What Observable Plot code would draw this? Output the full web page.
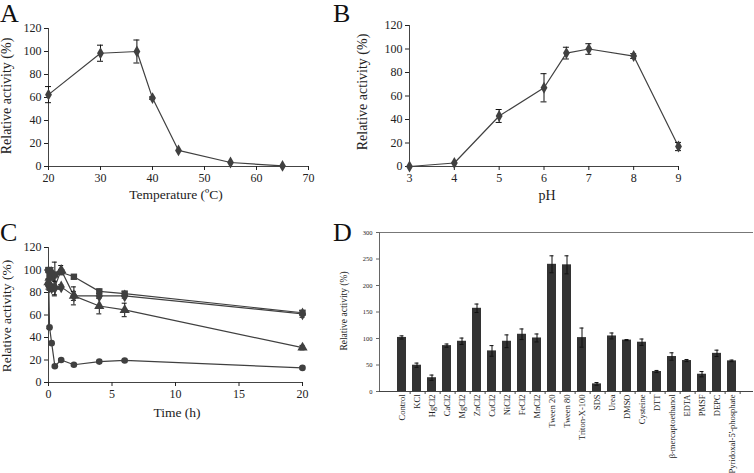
<!DOCTYPE html>
<html><head><meta charset="utf-8">
<script src="https://cdn.jsdelivr.net/npm/d3@7"></script>
<script src="https://cdn.jsdelivr.net/npm/@observablehq/plot@0.6"></script>
<style>
body{margin:0;background:#fff;}
#wrap{position:relative;width:754px;height:473px;overflow:hidden;font-family:"Liberation Serif",serif;color:#222;}
#wrap svg{position:absolute;}
</style></head>
<body><div id="wrap"></div>
<script>
// ---- Panel A: temperature
const tempX = [20, 30, 37, 40, 45, 55, 65];
const tempY = [62.5, 98.5, 100, 59.5, 14, 3.5, 0.5];
const tempErr = [7, 7, 10, 1, 0.5, 0.5, 0.5];
const tempTicks = [20, 30, 40, 50, 60, 70];
// ---- Panel B: pH
const phX = [3, 4, 5, 6, 6.5, 7, 8, 9];
const phY = [0, 3, 43, 67, 96.5, 100, 94, 17];
const phErr = [0, 0.5, 5.5, 12, 5, 4.5, 2, 3.5];
const phTicks = [3, 4, 5, 6, 7, 8, 9];
const activityTicks = [0, 20, 40, 60, 80, 100, 120];
// ---- Panel C: stability over time
const timeH = [0, 0.083, 0.25, 0.5, 1, 2, 4, 6, 20];
const stabCircle = [100, 49, 35, 14.5, 20, 15.8, 18.6, 19.6, 13];
const stabCircleErr = [1, 1, 1, 1, 1, 1, 1, 1, 1];
const stabSquare = [100, 97, 94, 96, 98, 94, 81, 79, 62];
const stabSquareErr = [2, 3, 3, 11, 2, 2, 2, 2, 2];
const stabDiamond = [86, 85, 84, 84, 85, 77, 77, 77, 61];
const stabDiamondErr = [3, 3, 3, 6, 2, 4, 2, 2, 3];
const stabTriangle = [89, 93, 98, 85, 100, 77, 68, 64.5, 31];
const stabTriangleErr = [3, 4, 4, 8, 4, 8, 7, 6, 2];
const timeTicks = [0, 5, 10, 15, 20];
// ---- Panel D: effectors
const effectors = ["Control","KCl","HgCl2","CaCl2","MgCl2","ZnCl2","CuCl2","NiCl2","FeCl2","MnCl2","Tween 20","Tween 80","Triton-X-100","SDS","Urea","DMSO","Cysteine","DTT","β-mercaptoethanol","EDTA","PMSF","DEPC","Pyridoxal-5'-phosphate"];
const effectValue = [102, 49.6, 26, 86.6, 94.8, 157, 76.6, 94.8, 108, 101, 240, 239, 101.7, 14.4, 104.8, 97, 93, 37.7, 66, 58.4, 32.6, 72, 57.8];
const effectErr = [3, 4, 5, 3, 6, 8, 10, 12, 10, 7.5, 16, 17, 18, 2.5, 5.6, 1, 6, 2, 7, 2, 5, 6, 1.5];
const dTicks = [0, 50, 100, 150, 200, 250, 300];

const wrap = document.getElementById("wrap");
const ink = "#404040";
const fmt = d => String(d);
const baseStyle = {fontFamily: "'Liberation Serif', serif", fontSize: "12px", color: "#222", background: "transparent", overflow: "visible"};

function put(svg, left, top) { svg.style.left = left + "px"; svg.style.top = top + "px"; wrap.appendChild(svg); }
function label(text, cx, cy, size, rot) {
  const d = document.createElement("div");
  d.textContent = text;
  d.style.cssText = `position:absolute;left:${cx}px;top:${cy}px;font-size:${size}px;white-space:nowrap;line-height:1;color:#222;transform:translate(-50%,-50%)${rot ? " rotate(-90deg)" : ""};`;
  wrap.appendChild(d);
}
function letter(text, left, baseline) {
  const d = document.createElement("div");
  d.textContent = text;
  d.style.cssText = `position:absolute;left:${left}px;top:${baseline - 23.2}px;font-size:26px;line-height:1.107;color:#111;`;
  wrap.appendChild(d);
}
function errMarks(data, cap) {
  const e = data.filter(d => d.e > 0.6);
  return [
    Plot.ruleX(e, {x: "x", y1: d => d.y - d.e, y2: d => d.y + d.e, stroke: "#111", strokeWidth: 1}),
    Plot.ruleY(e, {x1: "x", x2: "x", y: d => d.y + d.e, insetLeft: -cap, insetRight: -cap, stroke: "#111"}),
    Plot.ruleY(e, {x1: "x", x2: "x", y: d => d.y - d.e, insetLeft: -cap, insetRight: -cap, stroke: "#111"})
  ];
}

// Panel A
const dataA = tempX.map((x, i) => ({x, y: tempY[i], e: tempErr[i]}));
put(Plot.plot({
  width: 330, height: 210, marginLeft: 48, marginRight: 22, marginTop: 28, marginBottom: 44,
  style: baseStyle,
  x: {domain: [20, 70]}, y: {domain: [0, 120]},
  marks: [
    Plot.ruleX([20], {stroke: "#444"}),
    Plot.ruleY([0], {stroke: "#444"}),
    Plot.axisX({ticks: tempTicks, tickFormat: fmt, tickSize: 4, tickPadding: 3, label: null}),
    Plot.axisY({ticks: activityTicks, tickFormat: fmt, tickSize: 4, tickPadding: 3, label: null}),
    Plot.line(dataA, {x: "x", y: "y", stroke: ink, strokeWidth: 1.2}),
    ...errMarks(dataA, 3),
    Plot.dot(dataA, {x: "x", y: "y", symbol: "diamond", r: 3.6, fill: ink})
  ]
}), 0, 0);

// Panel B
const dataB = phX.map((x, i) => ({x, y: phY[i], e: phErr[i]}));
put(Plot.plot({
  width: 360, height: 210, marginLeft: 69, marginRight: 22, marginTop: 25, marginBottom: 44,
  style: baseStyle,
  x: {domain: [3, 9]}, y: {domain: [0, 120]},
  marks: [
    Plot.ruleX([3], {stroke: "#444"}),
    Plot.ruleY([0], {stroke: "#444"}),
    Plot.axisX({ticks: phTicks, tickFormat: fmt, tickSize: 4, tickPadding: 3, label: null}),
    Plot.axisY({ticks: activityTicks, tickFormat: fmt, tickSize: 4, tickPadding: 3, label: null}),
    Plot.line(dataB, {x: "x", y: "y", stroke: ink, strokeWidth: 1.2}),
    ...errMarks(dataB, 3),
    Plot.dot(dataB, {x: "x", y: "y", symbol: "diamond", r: 3.6, fill: ink})
  ]
}), 340, 0);

// Panel C
const series = [
  {name: "circle", vals: stabCircle, errs: stabCircleErr, sym: "circle", r: 3.3},
  {name: "square", vals: stabSquare, errs: stabSquareErr, sym: "square", r: 3.6},
  {name: "diamond", vals: stabDiamond, errs: stabDiamondErr, sym: "diamond", r: 3.8},
  {name: "triangle", vals: stabTriangle, errs: stabTriangleErr, sym: "triangle", r: 3.8}
];
const dataC = series.flatMap(s => timeH.map((x, i) => ({s: s.name, x, y: s.vals[i], e: s.errs[i]})));
put(Plot.plot({
  width: 330, height: 210, marginLeft: 48, marginRight: 28, marginTop: 17, marginBottom: 58,
  style: baseStyle,
  x: {domain: [0, 20]}, y: {domain: [0, 120]},
  marks: [
    Plot.ruleX([0], {stroke: "#444"}),
    Plot.ruleY([0], {stroke: "#444"}),
    Plot.axisX({ticks: timeTicks, tickFormat: fmt, tickSize: 4, tickPadding: 3, label: null}),
    Plot.axisY({ticks: activityTicks, tickFormat: fmt, tickSize: 4, tickPadding: 3, label: null}),
    Plot.line(dataC, {x: "x", y: "y", z: "s", stroke: ink, strokeWidth: 1.2}),
    ...errMarks(dataC, 2.5),
    ...series.map(s => Plot.dot(dataC.filter(d => d.s === s.name), {x: "x", y: "y", symbol: s.sym, r: s.r, fill: ink}))
  ]
}), 0, 230);

// Panel D
const dataD = effectors.map((n, i) => ({n, y: effectValue[i], e: effectErr[i]}));
const dW = 414, dL = 39, dR = 1;
const step = (dW - dL - dR) / effectors.length;
put(Plot.plot({
  width: dW, height: 245, marginLeft: dL, marginRight: dR, marginTop: 4, marginBottom: 82,
  style: {...baseStyle, fontSize: "8.5px"},
  x: {domain: effectors, padding: 0.42},
  y: {domain: [0, 300]},
  marks: [
    Plot.ruleY([300], {stroke: "#777"}),
    Plot.frame({anchor: "left", stroke: "#666"}),
    Plot.ruleY([0], {stroke: "#444"}),
    Plot.axisY({ticks: dTicks, tickFormat: fmt, tickSize: 3, tickPadding: 4, fontSize: 6.5, label: null, stroke: "#666"}),
    Plot.axisX({tickSize: 0, tickPadding: 3, tickRotate: -90, label: null}),
    Plot.axisX({tickSize: 3, tickFormat: () => "", dx: step / 2, label: null, stroke: "#444"}),
    Plot.barY(dataD, {x: "n", y: "y", fill: "#333"}),
    Plot.ruleX(dataD, {x: "n", y1: d => d.y - d.e, y2: d => d.y + d.e, stroke: "#111"}),
    Plot.tickY(dataD, {x: "n", y: d => d.y + d.e, insetLeft: 2.5, insetRight: 2.5, stroke: "#111"}),
    Plot.tickY(dataD, {x: "n", y: d => d.y - d.e, insetLeft: 2.5, insetRight: 2.5, stroke: "#111"})
  ]
}), 340, 228);

// titles and panel letters
label("Relative activity (%)", 7, 96, 14, true);
label("Temperature (ºC)", 176, 195, 13.5, false);
label("Relative activity (%)", 363, 92, 14, true);
label("pH", 547, 196, 14, false);
label("Relative activity (%)", 7, 316, 13.5, true);
label("Time (h)", 177, 413, 13.5, false);
label("Relative activity (%)", 345, 311, 9.5, true);
letter("A", 0, 23.4);
letter("B", 333, 23.4);
letter("C", 0, 242);
letter("D", 333, 242);
</script>
</body></html>
